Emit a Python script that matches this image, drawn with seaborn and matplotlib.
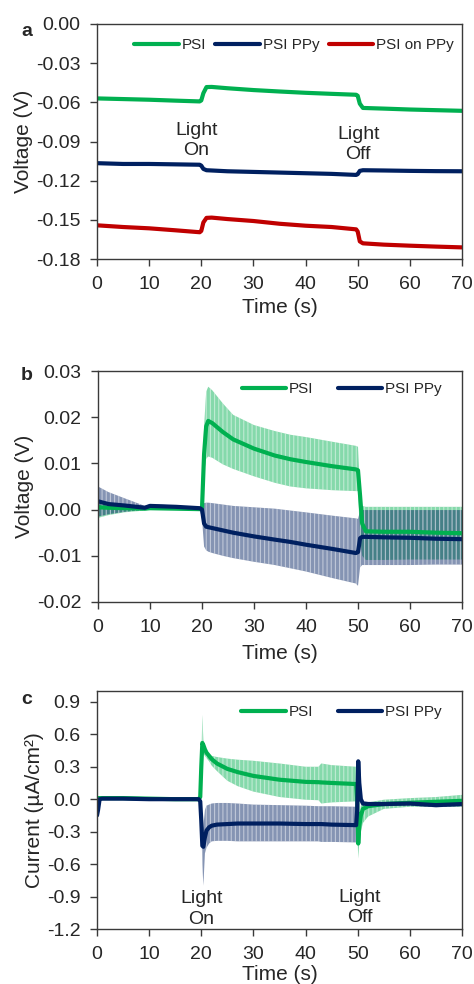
import numpy as np
import pandas as pd
import matplotlib
matplotlib.use("Agg")
import matplotlib.pyplot as plt
import seaborn as sns
from matplotlib.ticker import FormatStrFormatter

# panel a: open circuit voltage, single traces
a_time = [0, 5, 10, 15, 19.7, 20.0, 20.4, 21.0, 22, 25, 30, 35, 40, 45, 49.7, 50.0, 50.4, 51.0, 55, 60, 65, 70]
a_psi = [-0.0570, -0.0575, -0.0580, -0.0587, -0.0593, -0.0585, -0.0530, -0.0483, -0.0482, -0.0492, -0.0506,
         -0.0517, -0.0527, -0.0535, -0.0542, -0.0550, -0.0610, -0.0643, -0.0648, -0.0655, -0.0660, -0.0665]
a_psi_ppy = [-0.1066, -0.1072, -0.1072, -0.1075, -0.1078, -0.1085, -0.1110, -0.1120, -0.1122, -0.1128, -0.1133,
             -0.1138, -0.1143, -0.1148, -0.1156, -0.1150, -0.1125, -0.1120, -0.1122, -0.1125, -0.1127, -0.1128]
a_psi_on_ppy = [-0.1542, -0.1555, -0.1565, -0.1580, -0.1595, -0.1585, -0.1520, -0.1485, -0.1483, -0.1494, -0.1509,
                -0.1530, -0.1545, -0.1555, -0.1573, -0.1590, -0.1665, -0.1680, -0.1690, -0.1698, -0.1705, -0.1711]

# panel b: averaged voltage with spread
b_time = [0, 2, 5, 9, 10, 15, 19.6, 20.0, 20.4, 20.8, 21.2, 22, 24, 26, 30, 34, 37, 40, 45, 49.6,
          50.0, 50.4, 50.8, 51.5, 55, 60, 65, 70]
b_psi = [0.0005, 0.0004, 0.0003, 0.0002, 0.0003, 0.0002, 0.0001, 0.0002, 0.0120, 0.0180, 0.0192, 0.0187,
         0.0168, 0.0152, 0.0132, 0.0117, 0.0109, 0.0103, 0.0094, 0.0087,
         0.0085, 0.0030, -0.0030, -0.0047, -0.0048, -0.0048, -0.0050, -0.0051]
b_psi_lo = [-0.0018, -0.0012, -0.0006, -0.0002, 0.0000, 0.0000, -0.0001, -0.0001, 0.0080, 0.0110, 0.0115, 0.0112,
            0.0098, 0.0088, 0.0072, 0.0058, 0.0050, 0.0046, 0.0042, 0.0040,
            0.0040, -0.0060, -0.0100, -0.0109, -0.0109, -0.0108, -0.0108, -0.0108]
b_psi_hi = [0.0012, 0.0010, 0.0008, 0.0005, 0.0005, 0.0004, 0.0003, 0.0003, 0.0180, 0.0255, 0.0266, 0.0258,
            0.0230, 0.0205, 0.0183, 0.0170, 0.0162, 0.0157, 0.0147, 0.0138,
            0.0136, 0.0040, 0.0008, 0.0006, 0.0006, 0.0006, 0.0006, 0.0006]
b_ppy = [0.0018, 0.0012, 0.0009, 0.0004, 0.0008, 0.0006, 0.0003, 0.0000, -0.0030, -0.0037, -0.0038, -0.0040,
         -0.0045, -0.0050, -0.0058, -0.0065, -0.0070, -0.0076, -0.0085, -0.0094,
         -0.0092, -0.0062, -0.0059, -0.0059, -0.0060, -0.0061, -0.0063, -0.0064]
b_ppy_lo = [-0.0015, -0.0010, -0.0005, 0.0000, 0.0004, 0.0003, 0.0001, -0.0020, -0.0080, -0.0088, -0.0091, -0.0094,
            -0.0100, -0.0105, -0.0113, -0.0120, -0.0127, -0.0134, -0.0148, -0.0160,
            -0.0165, -0.0125, -0.0120, -0.0120, -0.0120, -0.0120, -0.0119, -0.0119]
b_ppy_hi = [0.0050, 0.0038, 0.0025, 0.0008, 0.0012, 0.0009, 0.0005, 0.0012, 0.0014, 0.0015, 0.0015, 0.0014,
            0.0011, 0.0008, 0.0005, 0.0002, -0.0002, -0.0006, -0.0013, -0.0019,
            -0.0020, -0.0003, -0.0001, -0.0001, -0.0001, -0.0001, -0.0001, -0.0001]

# panel c: photocurrent with spread
c_time = [0, 0.2, 0.5, 1, 5, 10, 15, 19.5, 19.8, 20.0, 20.2, 20.4, 20.7, 21, 21.5, 22, 23, 25, 27, 30, 35, 40,
          42.5, 43, 45, 49.7, 49.9, 50.1, 50.3, 50.6, 51, 52, 55, 60, 65, 70]
c_psi = [0.01, 0.01, 0.01, 0.01, 0.01, 0.005, 0.0, 0.0, 0.02, 0.30, 0.52, 0.50, 0.46, 0.43, 0.40, 0.37, 0.33,
         0.28, 0.25, 0.215, 0.18, 0.16, 0.157, 0.155, 0.15, 0.14, 0.0, -0.41, -0.25, -0.15, -0.09, -0.065,
         -0.045, -0.033, -0.024, -0.015]
c_psi_lo = [0.0, 0.0, 0.0, 0.0, 0.0, -0.005, -0.01, -0.01, 0.01, 0.25, 0.35, 0.42, 0.40, 0.38, 0.35, 0.31, 0.26,
            0.17, 0.12, 0.07, 0.02, -0.005, -0.01, -0.04, -0.03, -0.02, -0.25, -0.55, -0.40, -0.30, -0.22, -0.16,
            -0.09, -0.07, -0.07, -0.07]
c_psi_hi = [0.02, 0.02, 0.02, 0.02, 0.02, 0.015, 0.01, 0.01, 0.03, 0.35, 0.78, 0.55, 0.46, 0.44, 0.42, 0.40, 0.39,
            0.375, 0.365, 0.355, 0.33, 0.30, 0.30, 0.33, 0.315, 0.30, 0.25, -0.30, -0.15, -0.06, -0.04, -0.03,
            -0.005, 0.01, 0.02, 0.04]
c_ppy = [-0.15, -0.10, 0.0, 0.005, 0.005, 0.0, 0.0, 0.0, -0.02, -0.20, -0.43, -0.44, -0.35, -0.29, -0.26, -0.245,
         -0.235, -0.23, -0.225, -0.225, -0.225, -0.23, -0.23, -0.23, -0.235, -0.24, -0.10, 0.35, 0.15, 0.0, -0.04,
         -0.045, -0.045, -0.04, -0.055, -0.045]
c_ppy_lo = [-0.16, -0.11, -0.01, -0.005, -0.005, -0.01, -0.01, -0.01, -0.03, -0.25, -0.60, -0.80, -0.50, -0.45,
            -0.41, -0.39, -0.385, -0.385, -0.39, -0.39, -0.39, -0.39, -0.39, -0.395, -0.395, -0.40, -0.20, 0.33,
            0.13, -0.02, -0.06, -0.065, -0.065, -0.06, -0.075, -0.065]
c_ppy_hi = [-0.14, -0.09, 0.01, 0.015, 0.015, 0.01, 0.01, 0.01, -0.01, -0.15, -0.30, -0.25, -0.10, -0.06, -0.05,
            -0.04, -0.035, -0.035, -0.04, -0.05, -0.055, -0.06, -0.065, -0.065, -0.065, -0.07, -0.05, 0.37, 0.17,
            0.02, -0.02, -0.025, -0.025, -0.02, -0.035, -0.025]

x_ticks = [0, 10, 20, 30, 40, 50, 60, 70]
a_yticks = [0.0, -0.03, -0.06, -0.09, -0.12, -0.15, -0.18]
b_yticks = [0.03, 0.02, 0.01, 0.0, -0.01, -0.02]
c_yticks = [0.9, 0.6, 0.3, 0.0, -0.3, -0.6, -0.9, -1.2]

GREEN = "#00B050"
NAVY = "#002060"
RED = "#C00000"

sns.set_style("ticks")
plt.rcParams["font.family"] = ["Liberation Sans", "DejaVu Sans"]
plt.rcParams["hatch.linewidth"] = 0.8

fig = plt.figure(figsize=(4.74, 9.84), dpi=100)
ax_a = fig.add_axes([97 / 474, 1 - 259 / 984, 365 / 474, 235 / 984])
ax_b = fig.add_axes([98 / 474, 1 - 602 / 984, 364 / 474, 231 / 984])
ax_c = fig.add_axes([97 / 474, 1 - 929 / 984, 365 / 474, 238 / 984])


def band(ax, t, lo, hi, color):
    ax.fill_between(t, lo, hi, facecolor=color, edgecolor="white", alpha=0.48,
                    hatch="||||", linewidth=0)


def style(ax, yticks, fmt, ylim, ylabel, xpad):
    ax.set_xlim(0, 70)
    ax.set_ylim(*ylim)
    ax.set_xticks(x_ticks)
    ax.set_yticks(yticks)
    ax.yaxis.set_major_formatter(FormatStrFormatter(fmt))
    for s in ax.spines.values():
        s.set_visible(True)
        s.set_linewidth(1.0)
        s.set_color("#3a3a3a")
    ax.tick_params(direction="out", length=5, width=1, color="#3a3a3a",
                   labelsize=14, top=False, right=False, pad=7)
    ax.set_xlabel("Time (s)", fontsize=15, labelpad=xpad)
    ax.set_ylabel(ylabel, fontsize=15, labelpad=2)


# a
sns.lineplot(x=a_time, y=a_psi, ax=ax_a, color=GREEN, linewidth=3, label="PSI")
sns.lineplot(x=a_time, y=a_psi_ppy, ax=ax_a, color=NAVY, linewidth=3, label="PSI PPy")
sns.lineplot(x=a_time, y=a_psi_on_ppy, ax=ax_a, color=RED, linewidth=3, label="PSI on PPy")
style(ax_a, a_yticks, "%.2f", (-0.18, 0.0), "Voltage (V)", 4)
ax_a.legend(loc="center", bbox_to_anchor=(0.54, 0.91), ncol=3, frameon=False, fontsize=11,
            handlelength=2.9, handletextpad=0.2, columnspacing=0.6)
ax_a.text(19.1, -0.0894, "Light\nOn", ha="center", va="center", fontsize=14, linespacing=1.25)
ax_a.text(50.1, -0.0922, "Light\nOff", ha="center", va="center", fontsize=14, linespacing=1.25)

# b
band(ax_b, b_time, b_psi_lo, b_psi_hi, GREEN)
band(ax_b, b_time, b_ppy_lo, b_ppy_hi, NAVY)
sns.lineplot(x=b_time, y=b_psi, ax=ax_b, color=GREEN, linewidth=3, label="PSI")
sns.lineplot(x=b_time, y=b_ppy, ax=ax_b, color=NAVY, linewidth=3, label="PSI PPy")
style(ax_b, b_yticks, "%.2f", (-0.02, 0.03), "Voltage (V)", 6)
ax_b.legend(loc="center", bbox_to_anchor=(0.67, 0.92), ncol=2, frameon=False, fontsize=11,
            handlelength=2.9, handletextpad=0.2, columnspacing=1.6)

# c
band(ax_c, c_time, c_psi_lo, c_psi_hi, GREEN)
band(ax_c, c_time, c_ppy_lo, c_ppy_hi, NAVY)
sns.lineplot(x=c_time, y=c_psi, ax=ax_c, color=GREEN, linewidth=3, label="PSI")
sns.lineplot(x=c_time, y=c_ppy, ax=ax_c, color=NAVY, linewidth=3, label="PSI PPy")
style(ax_c, c_yticks, "%.1f", (-1.2, 1.0), "Current (µA/cm²)", 1.5)
ax_c.legend(loc="center", bbox_to_anchor=(0.67, 0.91), ncol=2, frameon=False, fontsize=11,
            handlelength=2.9, handletextpad=0.2, columnspacing=1.6)
ax_c.text(20.0, -1.015, "Light\nOn", ha="center", va="center", fontsize=14, linespacing=1.25)
ax_c.text(50.4, -1.0, "Light\nOff", ha="center", va="center", fontsize=14, linespacing=1.25)

# panel letters
for letter, y in [("a", 32), ("b", 376), ("c", 699)]:
    fig.text(27 / 474, 1 - y / 984, letter, fontsize=14, fontweight="bold", ha="center", va="center")

fig.savefig("out.png", dpi=100)
